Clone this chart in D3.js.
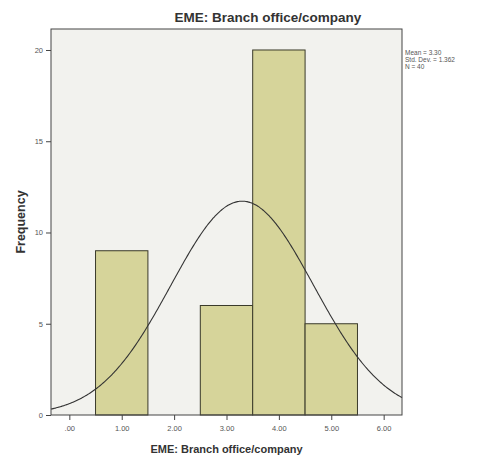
<!DOCTYPE html>
<html>
<head>
<meta charset="utf-8">
<script src="https://cdn.jsdelivr.net/npm/d3@7"></script>
<style>
  html, body { margin: 0; padding: 0; background: #ffffff; }
  svg { display: block; }
  text { font-family: "Liberation Sans", Arial, sans-serif; }
</style>
</head>
<body>
<svg id="chart" width="484" height="464"></svg>
<script>
// Histogram bins: midpoints (bin width 1) and counts
const binMids = [1, 3, 4, 5];
const binCounts = [9, 6, 20, 5];
const binWidth = 1;

// Axis ticks
const xTicks = [0, 1, 2, 3, 4, 5, 6];
const xTickLabels = [".00", "1.00", "2.00", "3.00", "4.00", "5.00", "6.00"];
const yTicks = [0, 5, 10, 15, 20];

// Summary statistics shown beside the plot
const statMean = 3.30;
const statSd = 1.362;
const statN = 40;

const svg = d3.select("#chart");

const frame = { left: 51, right: 402, top: 29, bottom: 415 };

const x = d3.scaleLinear().domain([-0.35, 6.35]).range([frame.left, frame.right]);
const y = d3.scaleLinear().domain([0, 21.15]).range([frame.bottom, frame.top]);

// Plot background
svg.append("rect")
  .attr("x", frame.left).attr("y", frame.top)
  .attr("width", frame.right - frame.left).attr("height", frame.bottom - frame.top)
  .attr("fill", "#f2f2ee");

// Bars
svg.append("g").selectAll("rect")
  .data(binMids.map((m, i) => ({ m, c: binCounts[i] })))
  .join("rect")
  .attr("x", d => x(d.m - binWidth / 2))
  .attr("y", d => y(d.c))
  .attr("width", d => x(d.m + binWidth / 2) - x(d.m - binWidth / 2))
  .attr("height", d => y(0) - y(d.c))
  .attr("fill", "#d6d49a")
  .attr("stroke", "#3a3a2a")
  .attr("stroke-width", 1);

// Normal curve scaled to counts
const norm = v => statN * binWidth / (statSd * Math.sqrt(2 * Math.PI)) *
  Math.exp(-0.5 * Math.pow((v - statMean) / statSd, 2));
const curvePts = d3.range(-0.35, 6.351, 0.02).map(v => [v, norm(v)]);
svg.append("path")
  .datum(curvePts)
  .attr("fill", "none")
  .attr("stroke", "#333333")
  .attr("stroke-width", 1.1)
  .attr("d", d3.line().x(d => x(d[0])).y(d => y(d[1])).curve(d3.curveBasis));

// Frame
svg.append("rect")
  .attr("x", frame.left).attr("y", frame.top)
  .attr("width", frame.right - frame.left).attr("height", frame.bottom - frame.top)
  .attr("fill", "none")
  .attr("stroke", "#444444")
  .attr("stroke-width", 1);

// Axes
const xAxis = d3.axisBottom(x).tickValues(xTicks)
  .tickFormat((d, i) => xTickLabels[i]).tickSize(5).tickSizeOuter(0);
const gx = svg.append("g").attr("transform", `translate(0,${frame.bottom})`).call(xAxis);
gx.select(".domain").remove();
gx.selectAll("line").attr("stroke", "#444");
gx.selectAll("text").attr("font-size", 7.5).attr("fill", "#555").attr("dy", "1.1em");

const yAxis = d3.axisLeft(y).tickValues(yTicks).tickSize(5).tickSizeOuter(0);
const gy = svg.append("g").attr("transform", `translate(${frame.left},0)`).call(yAxis);
gy.select(".domain").remove();
gy.selectAll("line").attr("stroke", "#444");
gy.selectAll("text").attr("font-size", 7.5).attr("fill", "#555");

// Title and axis titles
svg.append("text")
  .attr("x", 268).attr("y", 22)
  .attr("text-anchor", "middle")
  .attr("font-size", 13.5).attr("font-weight", "bold").attr("fill", "#333")
  .text("EME: Branch office/company");

svg.append("text")
  .attr("x", (frame.left + frame.right) / 2).attr("y", 453)
  .attr("text-anchor", "middle")
  .attr("font-size", 11).attr("font-weight", "bold").attr("fill", "#333")
  .text("EME: Branch office/company");

svg.append("text")
  .attr("transform", `translate(25,${(frame.top + frame.bottom) / 2}) rotate(-90)`)
  .attr("text-anchor", "middle")
  .attr("font-size", 12.5).attr("font-weight", "bold").attr("fill", "#333")
  .text("Frequency");

// Statistics legend
const stats = [
  `Mean = ${statMean.toFixed(2)}`,
  `Std. Dev. = ${statSd.toFixed(3)}`,
  `N = ${statN}`
];
svg.append("g").selectAll("text")
  .data(stats)
  .join("text")
  .attr("x", 405)
  .attr("y", (d, i) => 55 + i * 7)
  .attr("font-size", 6.5)
  .attr("fill", "#555")
  .text(d => d);
</script>
</body>
</html>
